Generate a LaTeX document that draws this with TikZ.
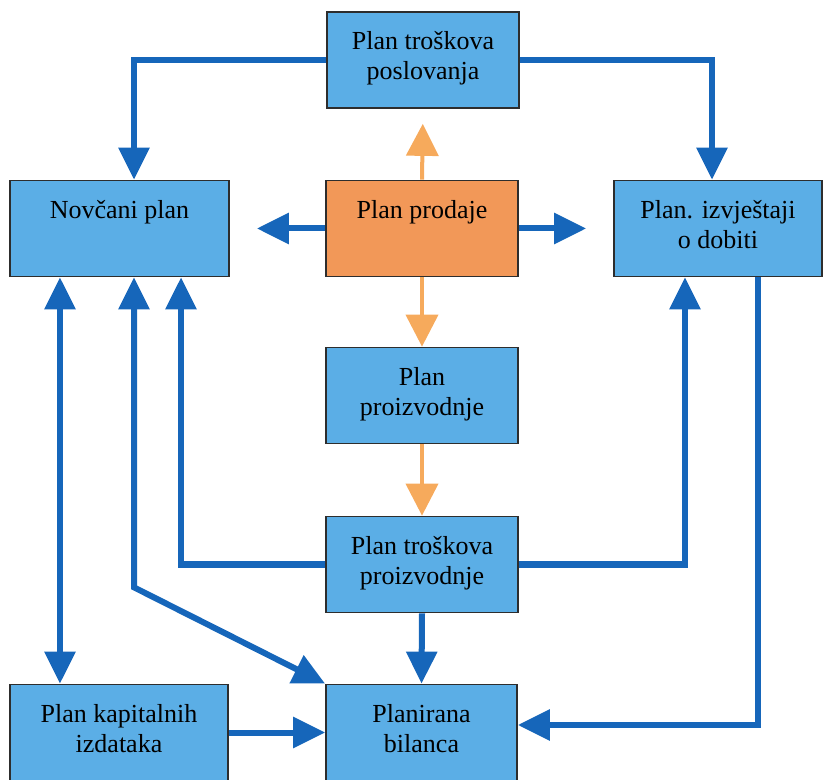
\documentclass[tikz,border=0pt]{standalone}
\usepackage{fontspec}
\setmainfont{Liberation Serif}
\usetikzlibrary{arrows.meta}
\definecolor{planblue}{RGB}{91,174,230}
\definecolor{planorange}{RGB}{242,152,88}
\definecolor{flowblue}{RGB}{22,102,186}
\definecolor{floworange}{RGB}{246,170,92}
\definecolor{boxline}{RGB}{45,45,45}
\newcommand{\plantext}[2]{\parbox[c][1.55cm][t]{#1}{\centering\strut #2}}
\tikzset{plan/.style={draw=boxline,line width=1.2pt,fill=planblue,
                      minimum height=2.4cm,inner xsep=0pt,inner ysep=0.425cm,
                      font=\fontsize{18.5pt}{21.3pt}\selectfont},
         sales/.style={plan,fill=planorange},
         flow/.style={draw=flowblue,line width=0.15cm,
                      >={Triangle[width=0.75cm,length=0.8cm]},->},
         flowboth/.style={flow,<->},
         salesflow/.style={draw=floworange,line width=0.1cm,
                      >={Triangle[width=0.8cm,length=0.8cm]},->}}

\begin{document}
\begin{tikzpicture}[x=0.025cm,y=-0.025cm]
    \useasboundingbox (0,0) rectangle (823,780);

    \node[plan]  (poslovanje)  at (423,60)      {\plantext{4.8cm}{Plan troškova\\poslovanja}};
    \node[plan]  (novcani)     at (119.5,228.5) {\plantext{5.475cm}{Novčani plan}};
    \node[sales] (prodaja)     at (422,228.5)   {\plantext{4.8cm}{Plan prodaje}};
    \node[plan]  (dobit)       at (718,228.5)   {\plantext{5.2cm}{Plan. izvještaji\\o dobiti}};
    \node[plan]  (proizvodnja) at (422,395.5)   {\plantext{4.8cm}{Plan\\proizvodnje}};
    \node[plan]  (troskovi)    at (422,564.5)   {\plantext{4.8cm}{Plan troškova\\proizvodnje}};
    \node[plan]  (kapital)     at (119,732.5)   {\plantext{5.45cm}{Plan kapitalnih\\izdataka}};
    \node[plan]  (bilanca)     at (421.5,732.5) {\plantext{4.775cm}{Planirana\\bilanca}};

    \draw[flow] (poslovanje.west) -| ([xshift=0.3625cm]novcani.north);
    \draw[flow] (poslovanje.east) -| ([xshift=-0.15cm]dobit.north);
    \draw[salesflow,shorten >=0.375cm] (prodaja.north) -- (poslovanje.south);
    \draw[flow,shorten >=0.675cm] (prodaja.west) -- (novcani.east);
    \draw[flow,shorten >=0.675cm] (prodaja.east) -- (dobit.west);
    \draw[salesflow] (prodaja.south) -- (proizvodnja.north);
    \draw[salesflow] (proizvodnja.south) -- (troskovi.north);
    \draw[flow] (troskovi.west) -| ([xshift=1.5375cm]novcani.south);
    \draw[flow] (troskovi.east) -| ([xshift=-0.825cm]dobit.south);
    \draw[flowboth] ([xshift=-1.4875cm]novcani.south)
        -- ([xshift=-1.4875cm]novcani.south |- kapital.north);
    \draw[flowboth] ([xshift=0.3625cm]novcani.south) -- ++(0,310) -- (bilanca.north west);
    \draw[flow] (troskovi.south) -- (bilanca.north);
    \draw[flow] ([xshift=1cm]dobit.south) |- ([yshift=0.1875cm]bilanca.east);
    \draw[flow] (kapital.east) -- (bilanca.west);
\end{tikzpicture}
\end{document}
